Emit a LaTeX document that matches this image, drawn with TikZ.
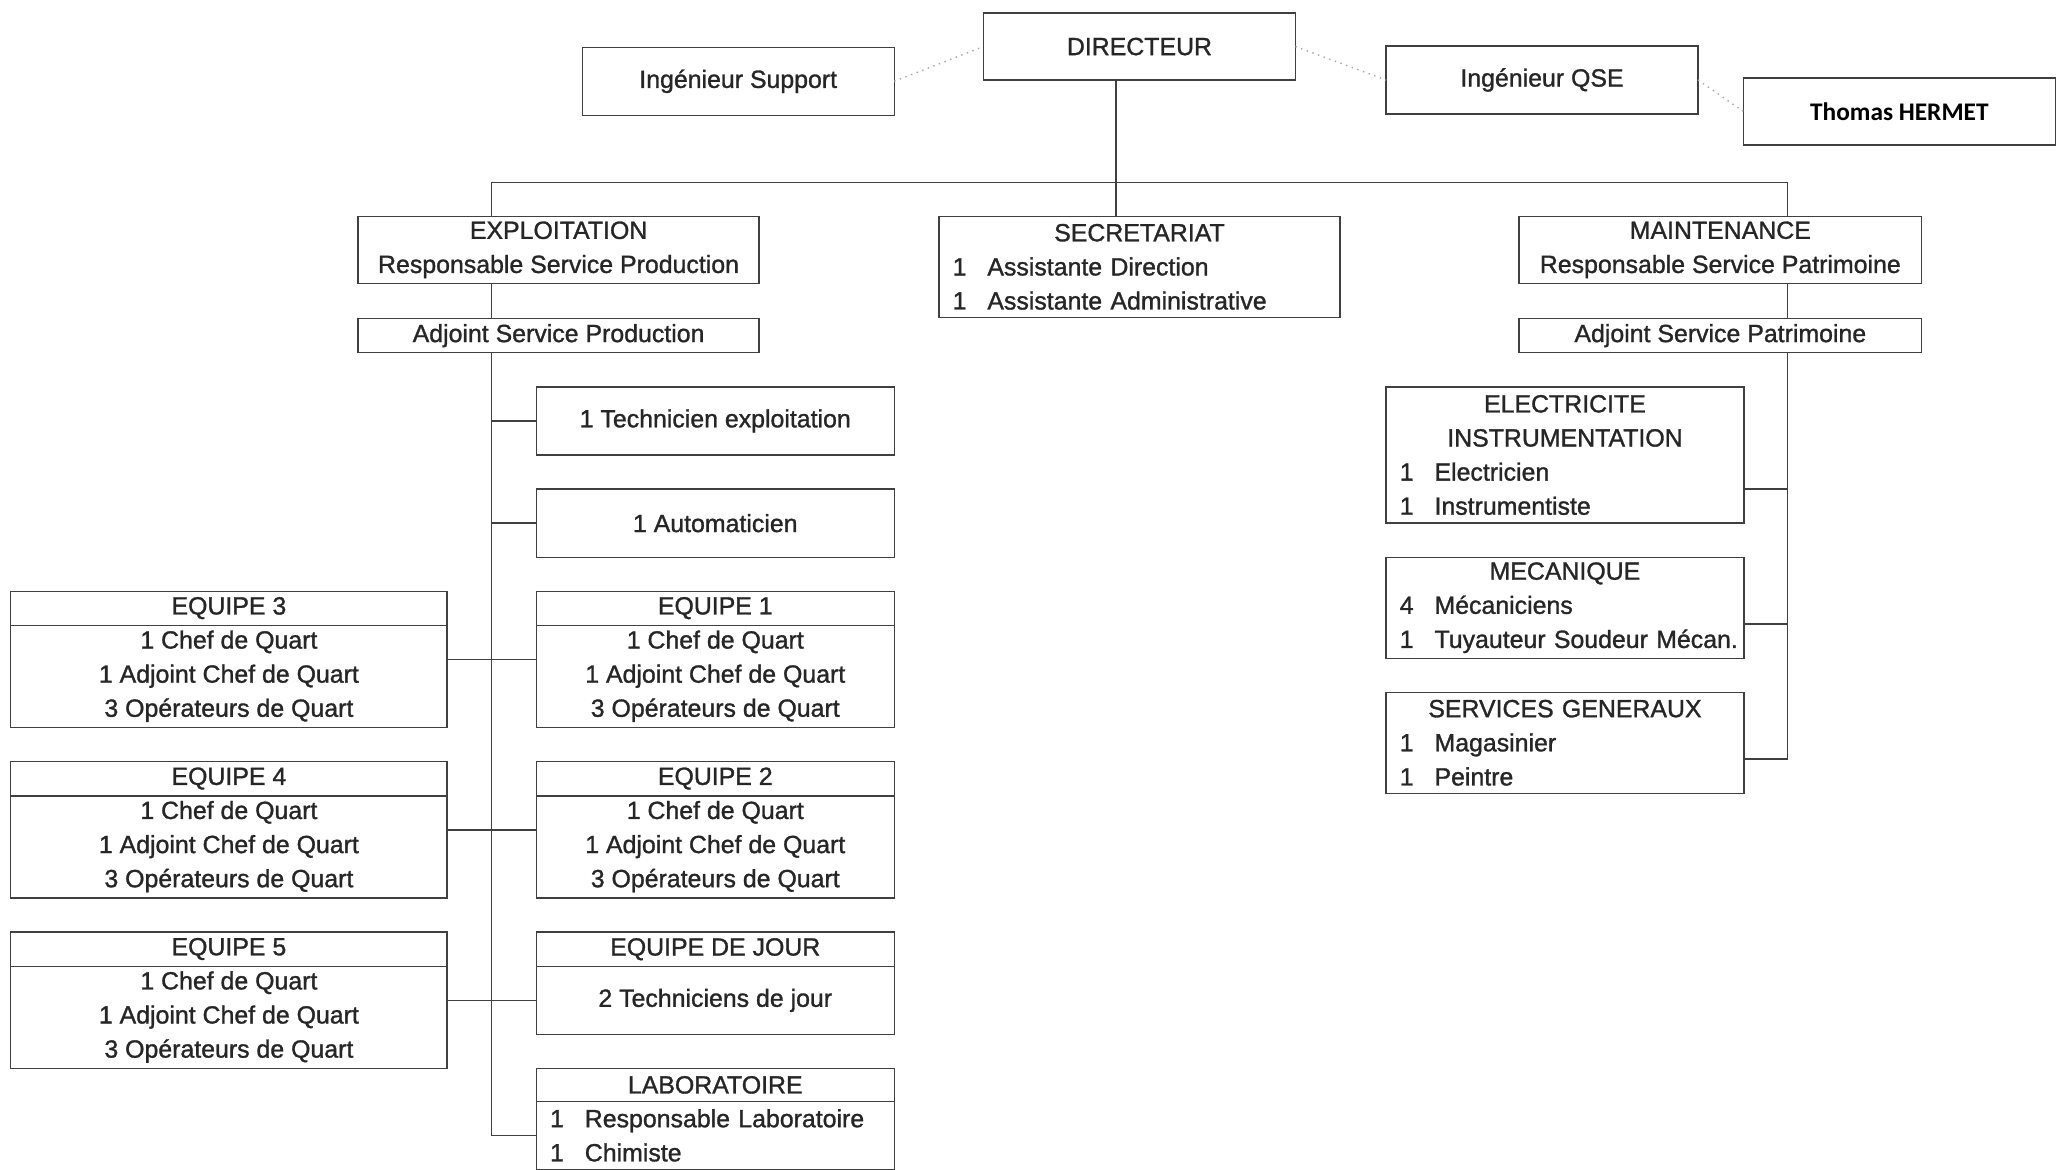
\documentclass[tikz,border=0pt]{standalone}
\usepackage{fontspec}
\setmainfont{Liberation Sans}[FakeBold=1.2]
\newfontfamily\namefont{Carlito}
\usetikzlibrary{positioning,calc}
\newcommand{\ctr}[1]{\makebox[\linewidth][c]{#1}}
\newcommand{\nb}[2]{\makebox[0.53cm][l]{#1}\mbox{#2}}
\newcommand{\team}[1]{EQUIPE #1\\1 Chef de Quart\\1 Adjoint Chef de Quart\\3 Opérateurs de Quart}
\tikzset{
  orgbox/.style={draw=black!75, line width=0.6pt, align=center, inner sep=0pt, outer sep=0pt,
    font=\fontsize{10.8}{14.8}\selectfont, text=black!85},
  listbox/.style={orgbox, align=left, inner xsep=0.21cm, inner ysep=0pt},
  teambox/.style={orgbox, minimum height=2.08cm},
  link/.style={draw=black!75, line width=0.6pt},
  dotlink/.style={draw=gray!70, dotted, line width=0.6pt}
}
\begin{document}
\begin{tikzpicture}[x=0.02cm, y=-0.02cm, node distance=0.52cm]
  \useasboundingbox (0,0) rectangle (1568,892);
  % direction
  \node[orgbox, minimum width=4.76cm, minimum height=1.02cm] (dir) at (869,35.5) {DIRECTEUR};
  \node[orgbox, minimum width=4.76cm, minimum height=1.04cm] (ingsup) at (563,62) {Ingénieur Support};
  \node[orgbox, minimum width=4.76cm, minimum height=1.04cm] (ingqse) at (1176,61) {Ingénieur QSE};
  \node[orgbox, minimum width=4.76cm, minimum height=1.02cm, text=black,
    font=\namefont\bfseries\fontsize{11}{13}\selectfont] (hermet) at (1448.5,85) {Thomas HERMET};
  % services
  \node[orgbox, minimum width=6.12cm, minimum height=1.02cm] (expl) at (426,190.5)
    {EXPLOITATION\\Responsable Service Production};
  \node[orgbox, minimum width=6.12cm, minimum height=0.52cm, below=0.54cm of expl] (aprod)
    {Adjoint Service Production};
  \node[listbox, text width=5.7cm, minimum height=1.54cm] (secr) at (869,203.5)
    {\ctr{SECRETARIAT}\\\nb{1}{Assistante Direction}\\\nb{1}{Assistante Administrative}};
  \node[orgbox, minimum width=6.14cm, minimum height=1.02cm] (maint) at (1312,190.5)
    {MAINTENANCE\\Responsable Service Patrimoine};
  \node[orgbox, minimum width=6.14cm, minimum height=0.52cm, below=0.54cm of maint] (apat)
    {Adjoint Service Patrimoine};
  % exploitation
  \node[orgbox, minimum width=5.46cm, minimum height=1.04cm] (tech) at (545.5,321) {1 Technicien exploitation};
  \node[orgbox, minimum width=5.46cm, minimum height=1.04cm, below=of tech] (auto) {1 Automaticien};
  \node[teambox, minimum width=5.46cm, below=of auto] (eq1) {\team{1}};
  \node[teambox, minimum width=5.46cm, below=of eq1] (eq2) {\team{2}};
  \node[teambox, minimum width=6.66cm, left=1.36cm of eq1] (eq3) {\team{3}};
  \node[teambox, minimum width=6.66cm, left=1.36cm of eq2] (eq4) {\team{4}};
  \node[teambox, minimum width=6.66cm, below=of eq4] (eq5) {\team{5}};
  \node[orgbox, minimum width=5.46cm, minimum height=0.52cm, below=of eq2] (jourt) {EQUIPE DE JOUR};
  \node[orgbox, minimum width=5.46cm, minimum height=1.04cm, below=0pt of jourt] (jourb) {2 Techniciens de jour};
  \node[orgbox, minimum width=5.46cm, minimum height=0.5cm, below=of jourb] (labot) {LABORATOIRE};
  \node[listbox, text width=5.04cm, minimum height=1.04cm, below=0pt of labot] (labob)
    {\nb{1}{Responsable Laboratoire}\\\nb{1}{Chimiste}};
  \foreach \e in {eq1,eq2,eq3,eq4,eq5}
    \draw[link] ([yshift=-0.52cm]\e.north west) -- ([yshift=-0.52cm]\e.north east);
  % maintenance
  \node[listbox, text width=5.04cm, minimum height=2.08cm] (elec) at (1193.5,347)
    {\ctr{ELECTRICITE}\\\ctr{INSTRUMENTATION}\\\nb{1}{Electricien}\\\nb{1}{Instrumentiste}};
  \node[listbox, text width=5.04cm, minimum height=1.54cm, below=of elec] (meca)
    {\ctr{MECANIQUE}\\\nb{4}{Mécaniciens}\\\nb{1}{Tuyauteur Soudeur Mécan.}};
  \node[listbox, text width=5.04cm, minimum height=1.54cm, below=of meca] (serv)
    {\ctr{SERVICES GENERAUX}\\\nb{1}{Magasinier}\\\nb{1}{Peintre}};
  % links
  \coordinate (lbus) at (375,139);
  \coordinate (mbus) at (851,139);
  \coordinate (rbus) at (1363,139);
  \draw[dotlink] (ingsup.east) -- (dir.west);
  \draw[dotlink] (dir.east) -- (ingqse.west);
  \draw[dotlink] (ingqse.east) -- (hermet.west);
  \draw[link] (dir.south -| mbus) -- (secr.north -| mbus);
  \draw[link] (expl.north -| lbus) -- (lbus) -- (rbus) -- (maint.north -| rbus);
  \draw[link] (expl.south -| lbus) -- (aprod.north -| lbus);
  \draw[link] (aprod.south -| lbus) |- (labob.west);
  \foreach \b in {tech,auto,eq1,eq2,jourb}
    \draw[link] (\b.west) -- (\b.west -| lbus);
  \foreach \b in {eq3,eq4,eq5}
    \draw[link] (\b.east) -- (\b.east -| lbus);
  \draw[link] (maint.south -| rbus) -- (apat.north -| rbus);
  \draw[link] (apat.south -| rbus) |- ([yshift=0.52cm]serv.south east);
  \foreach \b in {elec,meca}
    \draw[link] ([yshift=0.52cm]\b.south east) coordinate (p) -- (p -| rbus);
\end{tikzpicture}
\end{document}
